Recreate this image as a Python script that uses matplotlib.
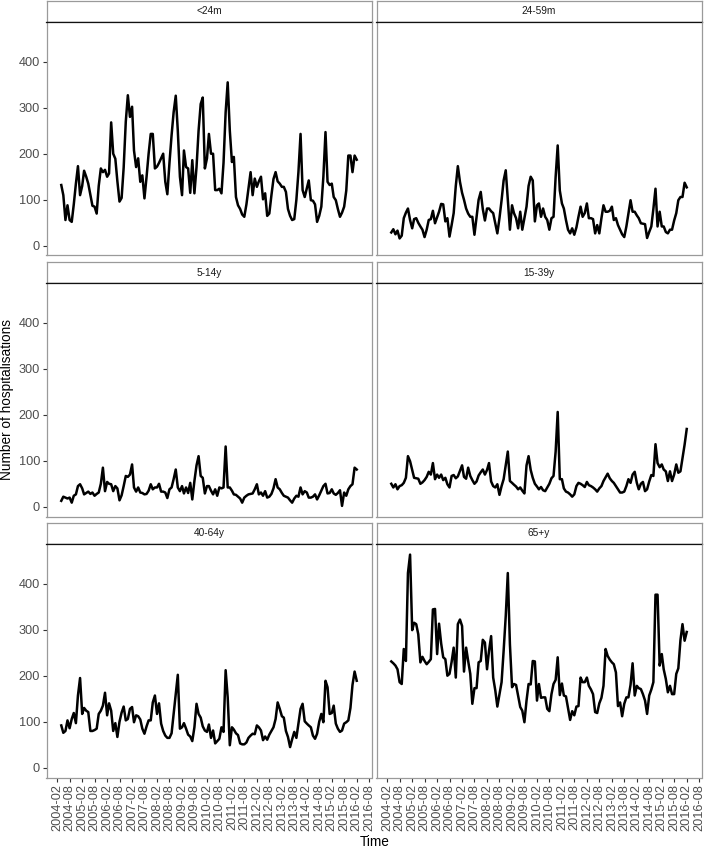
import matplotlib
matplotlib.use("Agg")
import matplotlib.pyplot as plt
import matplotlib.dates as mdates
import numpy as np
import pandas as pd

plt.rcParams['font.family'] = ['Liberation Sans', 'DejaVu Sans']

# ---------------- data ----------------
start_month = "2004-04-01"
end_month = "2016-02-01"
tick_start = "2004-02-01"
tick_end = "2016-08-01"

groups = ["<24m", "24-59m", "5-14y", "15-39y", "40-64y", "65+y"]

y_lt24m = [132, 110, 56, 88, 56, 52, 90, 135, 173, 110, 130, 163, 150, 135, 110, 87, 85, 70, 130, 168,
           160, 165, 150, 157, 268, 200, 189, 140, 96, 104, 170, 270, 327, 280, 302, 207, 171, 190, 139, 153,
           103, 150, 200, 243, 243, 168, 172, 180, 190, 200, 139, 112, 180, 240, 290, 326, 250, 150, 110, 207,
           171, 168, 115, 186, 114, 171, 250, 308, 322, 168, 190, 243, 200, 200, 121, 121, 124, 114, 180, 290,
           355, 250, 182, 193, 106, 88, 80, 68, 63, 90, 125, 160, 110, 146, 128, 140, 150, 101, 114, 65,
           70, 110, 145, 160, 140, 135, 128, 128, 117, 80, 65, 56, 58, 100, 160, 243, 121, 106, 125, 142,
           99, 98, 90, 52, 65, 85, 150, 247, 139, 132, 135, 106, 99, 80, 63, 72, 85, 120, 196, 196,
           160, 196, 187]

y_24_59m = [29, 36, 25, 33, 16, 22, 60, 72, 81, 56, 38, 58, 60, 50, 42, 35, 19, 35, 56, 58,
            76, 49, 62, 74, 91, 90, 53, 60, 20, 45, 71, 130, 173, 139, 115, 100, 81, 70, 63, 63,
            24, 63, 100, 117, 80, 55, 81, 81, 75, 71, 49, 27, 60, 99, 142, 164, 99, 35, 88, 71,
            60, 38, 74, 35, 60, 85, 130, 150, 142, 53, 88, 92, 63, 81, 63, 56, 35, 60, 63, 150,
            218, 120, 92, 81, 56, 35, 27, 38, 24, 40, 63, 85, 63, 71, 92, 60, 60, 58, 27, 45,
            27, 60, 88, 74, 74, 76, 85, 56, 60, 45, 35, 25, 19, 42, 70, 99, 74, 74, 66, 60,
            49, 48, 47, 17, 30, 42, 80, 124, 42, 74, 42, 42, 30, 27, 35, 35, 55, 71, 99, 106,
            106, 137, 127]

y_5_14y = [13, 22, 20, 18, 20, 9, 24, 27, 45, 49, 40, 27, 30, 33, 28, 31, 24, 28, 31, 50,
           85, 34, 54, 50, 49, 34, 45, 40, 14, 25, 45, 67, 65, 70, 92, 42, 33, 42, 31, 30,
           27, 28, 35, 49, 38, 42, 42, 50, 33, 33, 31, 19, 38, 42, 60, 81, 42, 34, 45, 29,
           42, 30, 52, 16, 56, 90, 110, 67, 63, 29, 45, 45, 35, 27, 38, 24, 42, 40, 42, 131,
           42, 42, 35, 27, 26, 22, 18, 9, 20, 24, 27, 28, 29, 38, 49, 27, 31, 24, 34, 20,
           22, 28, 40, 60, 42, 38, 30, 24, 22, 20, 14, 9, 18, 24, 22, 42, 27, 34, 31, 20,
           20, 22, 27, 16, 25, 35, 45, 50, 29, 30, 38, 29, 26, 30, 36, 2, 31, 24, 38, 45,
           49, 85, 81]

y_15_39y = [50, 42, 49, 38, 45, 47, 52, 63, 110, 99, 80, 63, 62, 61, 50, 53, 58, 65, 76, 70,
            95, 60, 70, 63, 70, 58, 63, 49, 42, 67, 69, 62, 66, 78, 90, 65, 61, 85, 67, 58,
            50, 55, 68, 75, 81, 70, 80, 95, 55, 45, 42, 49, 26, 45, 60, 90, 120, 56, 52, 48,
            44, 38, 42, 35, 29, 90, 110, 80, 63, 50, 44, 38, 43, 36, 34, 42, 50, 62, 67, 120,
            206, 60, 60, 40, 33, 31, 27, 22, 27, 45, 52, 50, 47, 43, 54, 47, 45, 42, 38, 33,
            40, 45, 56, 64, 72, 62, 56, 52, 45, 38, 31, 31, 33, 45, 60, 52, 70, 76, 52, 38,
            50, 54, 34, 38, 55, 69, 67, 136, 95, 86, 92, 81, 77, 56, 77, 56, 70, 92, 74, 77,
            105, 135, 169]

y_40_64y = [92, 76, 80, 103, 86, 106, 119, 97, 157, 195, 117, 130, 124, 121, 80, 80, 82, 85, 117, 124,
            135, 163, 114, 140, 124, 80, 97, 67, 100, 120, 133, 103, 106, 128, 132, 99, 114, 112, 105, 85,
            74, 90, 103, 103, 142, 157, 117, 140, 96, 80, 70, 65, 65, 75, 117, 160, 202, 85, 88, 97,
            85, 72, 68, 58, 88, 139, 117, 109, 90, 81, 78, 94, 65, 81, 53, 58, 63, 88, 78, 212,
            153, 49, 88, 83, 75, 71, 53, 51, 51, 55, 65, 70, 74, 73, 92, 88, 81, 60, 68, 61,
            72, 80, 88, 106, 142, 128, 112, 109, 80, 67, 45, 62, 78, 65, 96, 128, 139, 101, 96, 92,
            88, 70, 63, 74, 100, 117, 99, 189, 175, 117, 119, 135, 96, 85, 78, 81, 96, 99, 103, 130,
            180, 209, 189]

y_65plus = [231, 227, 222, 214, 186, 182, 258, 232, 423, 463, 299, 315, 312, 290, 229, 241, 232, 225, 230, 236,
            344, 345, 247, 313, 270, 240, 236, 200, 204, 230, 261, 196, 312, 322, 308, 209, 261, 232, 204, 139,
            173, 173, 229, 232, 278, 272, 214, 254, 286, 196, 168, 133, 160, 186, 254, 330, 423, 268, 175, 182,
            180, 157, 132, 124, 99, 146, 182, 181, 232, 231, 146, 182, 152, 153, 153, 128, 123, 160, 182, 191,
            240, 158, 183, 157, 155, 130, 104, 123, 114, 133, 134, 196, 186, 186, 196, 178, 170, 160, 121, 119,
            140, 152, 178, 258, 243, 235, 229, 225, 207, 134, 142, 112, 139, 153, 153, 180, 227, 157, 178, 173,
            171, 160, 146, 117, 157, 170, 186, 376, 376, 222, 247, 214, 193, 164, 178, 160, 160, 204, 216, 277,
            312, 276, 295]

series = [y_lt24m, y_24_59m, y_5_14y, y_15_39y, y_40_64y, y_65plus]
y_ticks = [0, 100, 200, 300, 400]

# ---------------- layout ----------------
W, H = 708, 847
fig = plt.figure(figsize=(W / 100, H / 100), dpi=100)
fig.patch.set_facecolor("white")

col_x = [46.5, 376.5]
col_w = 325.0
row_top = [1.0, 262.0, 523.0]
strip_h = 21.0
panel_h = 233.5

dates = pd.date_range(start_month, end_month, freq="MS")
xnum = mdates.date2num(dates)
span = xnum.max() - xnum.min()
xlim = (xnum.min() - 0.05 * span, xnum.max() + 0.05 * span)
allv = np.concatenate([np.asarray(s, float) for s in series])
yspan = allv.max() - allv.min()
ylim = (allv.min() - 0.05 * yspan, allv.max() + 0.05 * yspan)
tick_dates = pd.date_range(tick_start, tick_end, freq="6MS")
tick_num = mdates.date2num(tick_dates)
tick_lab = [d.strftime("%Y-%m") for d in tick_dates]

border_col = "#9a9a9a"
tick_col = "#333333"
lab_col = "#4D4D4D"


def frac(x, ytop, w, h):
    return [x / W, 1 - (ytop + h) / H, w / W, h / H]


for k, (name, vals) in enumerate(zip(groups, series)):
    r, c = divmod(k, 2)
    x0 = col_x[c]
    st = row_top[r]
    # strip
    sax = fig.add_axes(frac(x0, st, col_w, strip_h))
    sax.set_xticks([])
    sax.set_yticks([])
    sax.set_xlim(0, 1)
    sax.set_ylim(0, 1)
    for sp in sax.spines.values():
        sp.set_color(border_col)
        sp.set_linewidth(0.9)
    sax.spines["bottom"].set_color("#111111")
    sax.text(0.5, 0.5, name, ha="center", va="center", fontsize=7.3, color="#1A1A1A")

    ax = fig.add_axes(frac(x0, st + strip_h, col_w, panel_h))
    ax.plot(xnum, vals, color="black", linewidth=1.8, solid_joinstyle="round")
    ax.set_xlim(*xlim)
    ax.set_ylim(*ylim)
    for sp in ax.spines.values():
        sp.set_color(border_col)
        sp.set_linewidth(0.9)
    ax.spines["top"].set_color("#111111")
    ax.set_yticks(y_ticks)
    ax.set_xticks(tick_num)
    ax.tick_params(axis="both", length=3.2, width=0.8, color=tick_col, pad=1.5,
                   labelsize=9.2, labelcolor=lab_col)
    if c == 0:
        ax.set_yticklabels([str(v) for v in y_ticks])
    else:
        ax.tick_params(axis="y", length=0, labelleft=False)
    if r == 2:
        ax.set_xticklabels(tick_lab, rotation=90, va="top", ha="center")
    else:
        ax.tick_params(axis="x", length=0, labelbottom=False)

# axis titles
fig.text(7.5 / W, 1 - (row_top[0] + strip_h + row_top[2] + strip_h + panel_h) / 2 / H,
         "Number of hospitalisations", rotation=90, ha="center", va="center",
         fontsize=9.8, color="black")
fig.text(375 / W, 1 - 845.5 / H, "Time", ha="center", va="baseline",
         fontsize=9.8, color="black")

fig.savefig("out.png", dpi=100, facecolor="white")
